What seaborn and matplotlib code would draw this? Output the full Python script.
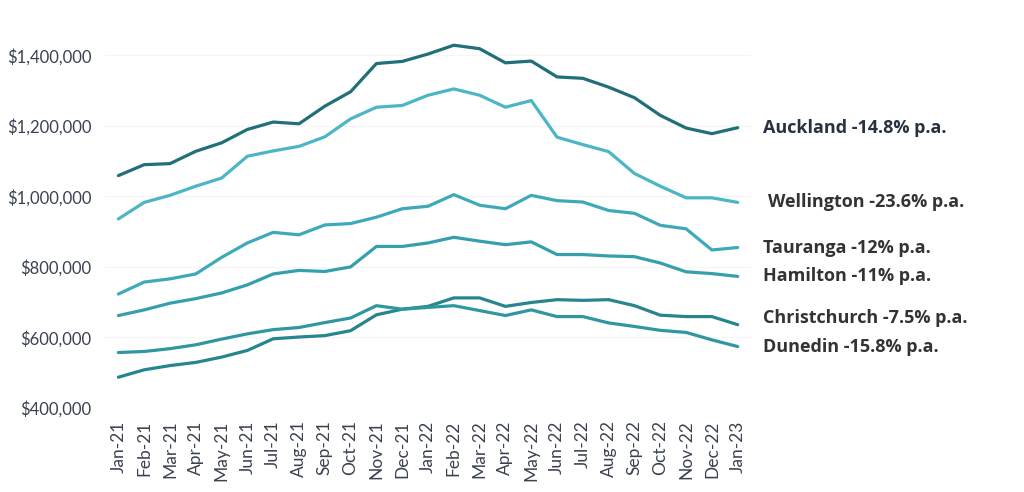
import matplotlib
matplotlib.use("Agg")
import matplotlib.pyplot as plt
import pandas as pd
import seaborn as sns
from matplotlib.ticker import FuncFormatter

# Monthly median values, Jan-21 .. Jan-23
months = ["Jan-21", "Feb-21", "Mar-21", "Apr-21", "May-21", "Jun-21", "Jul-21",
          "Aug-21", "Sep-21", "Oct-21", "Nov-21", "Dec-21", "Jan-22", "Feb-22",
          "Mar-22", "Apr-22", "May-22", "Jun-22", "Jul-22", "Aug-22", "Sep-22",
          "Oct-22", "Nov-22", "Dec-22", "Jan-23"]

auckland = [1059000, 1090000, 1093000, 1128000, 1152000, 1190000, 1211000, 1206000,
            1256000, 1297000, 1377000, 1383000, 1404000, 1429000, 1419000, 1379000,
            1384000, 1339000, 1335000, 1310000, 1280000, 1230000, 1194000, 1178000,
            1195000]
wellington = [936000, 983000, 1003000, 1029000, 1052000, 1114000, 1129000, 1142000,
              1169000, 1220000, 1253000, 1258000, 1287000, 1305000, 1287000, 1253000,
              1272000, 1168000, 1147000, 1127000, 1065000, 1029000, 996000, 996000,
              983000]
tauranga = [723000, 757000, 766000, 780000, 827000, 868000, 898000, 891000,
            919000, 923000, 941000, 965000, 972000, 1005000, 975000, 965000,
            1003000, 988000, 984000, 960000, 952000, 918000, 908000, 848000,
            855000]
hamilton = [662000, 678000, 697000, 710000, 726000, 749000, 780000, 790000,
            787000, 800000, 858000, 858000, 868000, 884000, 873000, 863000,
            871000, 835000, 835000, 831000, 829000, 811000, 786000, 781000,
            773000]
christchurch = [487000, 508000, 520000, 529000, 544000, 563000, 596000, 601000,
                605000, 619000, 664000, 680000, 688000, 712000, 712000, 688000,
                699000, 707000, 705000, 707000, 690000, 663000, 659000, 659000,
                636000]
dunedin = [557000, 560000, 568000, 579000, 595000, 610000, 622000, 628000,
           642000, 655000, 690000, 680000, 685000, 690000, 676000, 662000,
           678000, 659000, 659000, 641000, 631000, 620000, 614000, 593000,
           574000]

cities = ["Auckland", "Wellington", "Tauranga", "Hamilton", "Christchurch", "Dunedin"]
labels = ["Auckland -14.8% p.a.", "Wellington -23.6% p.a.", "Tauranga -12% p.a.",
          "Hamilton -11% p.a.", "Christchurch -7.5% p.a.", "Dunedin -15.8% p.a."]

colors = {"Auckland": "#216f78", "Wellington": "#4bb6c5", "Tauranga": "#3eaab9",
          "Hamilton": "#35a0ac", "Christchurch": "#27858d", "Dunedin": "#3097a0"}

series = [auckland, wellington, tauranga, hamilton, christchurch, dunedin]
df = pd.DataFrame({
    "month": list(range(len(months))) * len(cities),
    "city": [c for c in cities for _ in months],
    "value": [v for s in series for v in s],
})

sns.set_style("white")
plt.rcParams["font.family"] = ["Lato", "DejaVu Sans"]

fig = plt.figure(figsize=(10.24, 4.92), dpi=100)
ax = fig.add_axes([0.103, 0.171, 0.63, 0.745])

sns.lineplot(data=df, x="month", y="value", hue="city", palette=colors,
             linewidth=2.3, legend=False, ax=ax, clip_on=False)

ax.set_xlim(-0.5, 24.5)
ax.set_ylim(400000, 1440000)
ax.set_yticks([400000, 600000, 800000, 1000000, 1200000, 1400000])
ax.yaxis.set_major_formatter(FuncFormatter(lambda v, p: f"${v:,.0f}"))
ax.set_xticks(range(len(months)))
ax.set_xticklabels(months, rotation=90)
ax.tick_params(axis="y", labelsize=12, labelcolor="#3a4150", length=0, pad=10)
ax.tick_params(axis="x", labelsize=12.5, labelcolor="#3a4150", length=0, pad=9)
ax.grid(axis="y", color="#f5f5f5", linewidth=0.8)
ax.set_xlabel("")
ax.set_ylabel("")
for s in ax.spines.values():
    s.set_visible(False)

# end-of-line labels
nudge = {"Wellington": (13, 0), "Christchurch": (9, 5)}
for city, lab, s in zip(cities, labels, series):
    dx, dy = nudge.get(city, (9, 0))
    ax.annotate(lab, xy=(len(months) - 1, s[-1]), xytext=(dx + 9, dy),
                textcoords="offset points", va="center", ha="left",
                fontsize=13, fontweight="bold", family=["Open Sans", "DejaVu Sans"],
                color="#263241" if city == "Auckland" else "#333333",
                annotation_clip=False)

fig.savefig("out.png", dpi=100, facecolor="white")
